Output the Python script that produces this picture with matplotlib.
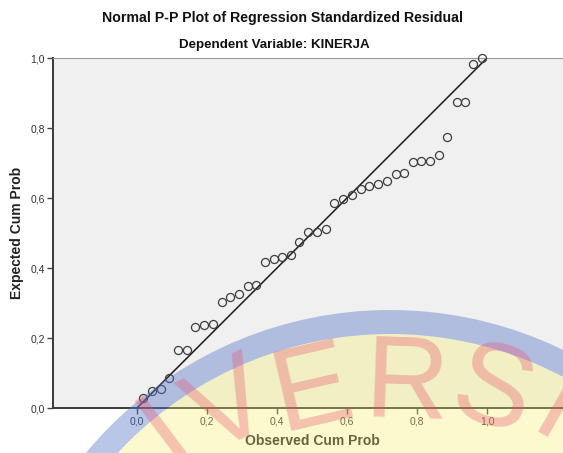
import numpy as np
import matplotlib
matplotlib.use('Agg')
import matplotlib.pyplot as plt
from matplotlib.patches import Circle, Wedge

plt.rcParams['font.family'] = ['Liberation Sans', 'DejaVu Sans']

# observed vs expected cumulative probabilities
observed = [0.018, 0.042, 0.068, 0.092, 0.118, 0.142, 0.167, 0.191, 0.216, 0.242,
            0.266, 0.291, 0.316, 0.341, 0.366, 0.391, 0.415, 0.440, 0.464, 0.489,
            0.515, 0.540, 0.564, 0.589, 0.614, 0.639, 0.664, 0.689, 0.714, 0.739,
            0.764, 0.788, 0.812, 0.837, 0.863, 0.887, 0.913, 0.938, 0.961, 0.987]
expected = [0.028, 0.049, 0.053, 0.087, 0.165, 0.165, 0.231, 0.237, 0.240, 0.302,
            0.316, 0.325, 0.349, 0.351, 0.418, 0.427, 0.431, 0.436, 0.475, 0.504,
            0.504, 0.512, 0.587, 0.597, 0.608, 0.626, 0.633, 0.641, 0.648, 0.668,
            0.671, 0.702, 0.707, 0.706, 0.722, 0.774, 0.873, 0.873, 0.982, 1.000]
ref_line = [0.0, 1.0]
ticks = [0.0, 0.2, 0.4, 0.6, 0.8, 1.0]
tick_labels = ['0,0', '0,2', '0,4', '0,6', '0,8', '1,0']

W, H = 563, 453
fig = plt.figure(figsize=(W / 100, H / 100), dpi=100)
fig.patch.set_facecolor('white')

ax = fig.add_axes([53 / W, (H - 408) / H, (W - 53) / W, 350 / H])
ax.set_facecolor('#f0f0f0')
ax.plot(ref_line, ref_line, color='#1a1a1a', lw=1.1, zorder=2)
ax.plot(observed, expected, 'o', ms=5.8, mfc='none', mec='#3c3c3c', mew=0.9,
        zorder=3, clip_on=False)

ax.set_xlim(-0.24, -0.24 + 510 / 350)
ax.set_ylim(0, 1)
ax.set_xticks(ticks)
ax.set_xticklabels(tick_labels)
ax.set_yticks(ticks)
ax.set_yticklabels(tick_labels)
ax.tick_params(direction='out', length=4, width=1, colors='#444444',
               labelsize=7.5, labelcolor='#333333', pad=2)

ax.spines['right'].set_visible(False)
ax.spines['top'].set_color('#9a9a9a')
ax.spines['top'].set_linewidth(0.8)
for s in ['left', 'bottom']:
    ax.spines[s].set_color('#3a3a3a')
    ax.spines[s].set_linewidth(1.4)

ax.set_xlabel('Observed Cum Prob', fontsize=10, fontweight='bold', color='#222222')
ax.set_ylabel('Expected Cum Prob', fontsize=10, fontweight='bold', color='#222222')
ax.xaxis.set_label_coords(0.508, -0.075)
ax.yaxis.set_label_coords(-0.056, 0.5)

fig.text(282 / W, 1 - 18 / H, 'Normal P-P Plot of Regression Standardized Residual',
         ha='center', va='center', fontsize=10.2, fontweight='bold', color='#111111')
fig.text(274 / W, 1 - 45 / H, 'Dependent Variable: KINERJA',
         ha='center', va='center', fontsize=9.6, fontweight='bold', color='#111111')

# faint university watermark over the lower part
ov = fig.add_axes([0, 0, 1, 1], zorder=5)
ov.set_xlim(0, W)
ov.set_ylim(H, 0)
ov.axis('off')
ov.patch.set_alpha(0)
cx, cy, r = 390, 705, 395
ov.add_patch(Circle((cx, cy), r - 24, facecolor='#f5ee6a', edgecolor='none', alpha=0.33))
ov.add_patch(Wedge((cx, cy), r, 0, 360, width=24, facecolor='#5a78c8',
                   edgecolor='none', alpha=0.42))
letters = [('I', 167, 432, 37), ('V', 230, 410, 27), ('E', 312, 393, 13),
           ('R', 407, 386, -2), ('S', 492, 395, -17), ('I', 556, 413, -30)]
for ch, lx, ly, rot in letters:
    ov.text(lx, ly, ch, fontsize=84, color='#e8506e', alpha=0.33, ha='center',
            va='center', rotation=rot, rotation_mode='anchor',
            family=['Liberation Sans Narrow', 'Liberation Sans'])

fig.savefig('out.png', dpi=100)
